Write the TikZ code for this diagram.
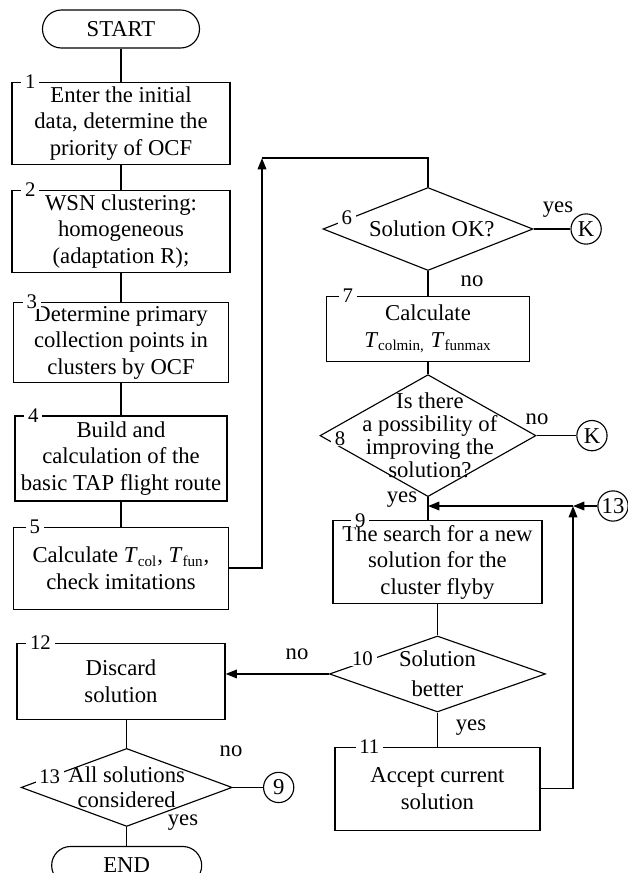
\documentclass[tikz,border=0pt]{standalone}
\usepackage{fontspec}
\setmainfont{Liberation Serif}
\usetikzlibrary{positioning, shapes.geometric, arrows.meta}

\begin{document}
\begin{tikzpicture}[
        x=0.529pt, y=-0.529pt,
        font=\fontsize{12}{14}\selectfont,
        sz/.style 2 args={minimum width=#1*0.529pt, minimum height=#2*0.529pt},
        term/.style={rectangle, draw, line width=0.6pt, rounded corners=10pt, inner sep=0pt},
        box/.style={rectangle, draw, line width=0.6pt, align=center, inner xsep=1pt, inner ysep=2pt},
        dec/.style={diamond, draw, line width=0.6pt, inner sep=0pt},
        conn/.style={circle, draw, line width=0.6pt, minimum size=16pt, inner sep=0pt},
        num/.style={anchor=center, fill=white, inner xsep=2pt, inner ysep=0pt, font=\fontsize{11}{12}\selectfont},
        txt/.style={align=center, font=\fontsize{12}{#1}\selectfont},
        wire/.style={line width=0.6pt},
        bold wire/.style={line width=0.9pt},
        arrow/.style={-{Triangle[length=6pt, width=4.5pt]}, line width=0.9pt}
    ]
        \useasboundingbox (0,0) rectangle (627,873);

        % left column
        \node[term, sz={157}{38}] (START) at (121,29) {START};
        \node[box, sz={218}{82}, below=17.5pt of START, label={[num, xshift=10pt]north west:1}] (B1) {Enter the initial\\data, determine the\\priority of OCF};
        \node[box, sz={218}{82}, below=13.2pt of B1, label={[num, xshift=10pt]north west:2}] (B2) {WSN clustering:\\homogeneous\\(adaptation R);};
        \node[box, sz={215}{80}, below=15.3pt of B2, label={[num, xshift=10pt]north west:3}] (B3) {Determine primary\\collection points in\\clusters by OCF};
        \node[box, sz={212}{85}, below=17pt of B3, label={[num, xshift=10pt]north west:4}] (B4) {Build and\\calculation of the\\basic TAP flight route};
        \node[box, sz={215}{82}, below=13.2pt of B4, label={[num, xshift=11.6pt]north west:5}] (B5) {Calculate \textit{T}\textsubscript{col}, \textit{T}\textsubscript{fun},\\check imitations};
        \node[box, sz={208}{76}, below=17.5pt of B5, label={[num, xshift=12.7pt]north west:12}] (B12) {Discard\\solution};
        \node[dec, sz={211}{78}, below=14.8pt of B12, xshift=3pt,
              label={[txt=13.2pt]center:All solutions\\considered},
              label={[num, xshift=-40.7pt, yshift=5.8pt]center:13}] (D13) {};
        \node[term, sz={150}{38}, below=10pt of D13] (END) {END};
        \node[conn, right=16pt of D13] (C9) {9};

        % right column
        \node[dec, sz={210}{83}, label={[txt=14pt, xshift=2pt]center:Solution OK?},
              label={[num, xshift=-43pt, yshift=6pt]center:6}] (D6) at (428,229) {};
        \node[conn, right=19.5pt of D6] (K1) {K};
        \node[box, sz={203}{65}, below=13.2pt of D6, label={[num, xshift=11.6pt]north west:7}] (B7) {Calculate\\\textit{T}\textsubscript{colmin,} \textit{T}\textsubscript{funmax}};
        \node[dec, sz={216}{122}, below=6.3pt of B7,
              label={[txt=12.2pt, xshift=1pt]center:Is there\\a possibility of\\improving the\\solution?},
              label={[num, xshift=-46.5pt, yshift=-1.6pt]center:8}] (D8) {};
        \node[conn, right=21pt of D8] (K2) {K};
        \node[box, sz={209}{83}, below=12.2pt of D8, xshift=5pt, label={[num, xshift=14.8pt]north west:9}] (B9) {The search for a new\\solution for the\\cluster flyby};
        \node[dec, sz={216}{76}, below=16.4pt of B9,
              label={[txt=16pt]center:Solution\\better},
              label={[num, xshift=-39.7pt, yshift=8pt]center:10}] (D10) {};
        \node[box, sz={205}{83}, below=18pt of D10, label={[num, xshift=18.5pt]north west:11}] (B11) {Accept current\\solution};
        \node[conn] (C13) at (613,506) {13};

        \coordinate (CR) at (262,158);
        \coordinate (J1) at (573,506);

        % branch labels
        \node (Y6) at (558,210) {yes};
        \node (N6) at (472,281) {no};
        \node (N8) at (537,419) {no};
        \node (Y8) at (402,500) {yes};
        \node (N10) at (297,654) {no};
        \node (Y10) at (471,728) {yes};
        \node (N13) at (231,751) {no};
        \node (Y13) at (183,823) {yes};

        % connectors
        \draw[wire] (START.south) -- (B1.north);
        \draw[wire] (B1.south) -- (B2.north);
        \draw[wire] (B2.south) -- (B3.north);
        \draw[wire] (B3.south) -- (B4.north);
        \draw[wire] (B4.south) -- (B5.north);
        \draw[arrow] (B5.east) -| (CR);
        \draw[bold wire] (CR) -| (D6.north);
        \draw[wire] (D6.east) -- (K1);
        \draw[wire] (D6.south) -- (B7.north);
        \draw[wire] (B7.south) -- (D8.north);
        \draw[wire] (D8.east) -- (K2);
        \draw[wire] (D8.south) -- (D8.south |- B9.north);
        \draw[arrow] (C13) -- (J1);
        \draw[arrow] (J1) -- (J1 -| D8.south);
        \draw[arrow] (B11.east) -| (J1);
        \draw[wire] (B9.south) -- (D10.north);
        \draw[arrow] (D10.west) -- (D10.west -| B12.east);
        \draw[wire] (D10.south) -- (B11.north);
        \draw[wire] (D13.north |- B12.south) -- (D13.north);
        \draw[wire] (D13.east) -- (C9);
        \draw[wire] (D13.south) -- (END.north);
    \end{tikzpicture}
\end{document}
